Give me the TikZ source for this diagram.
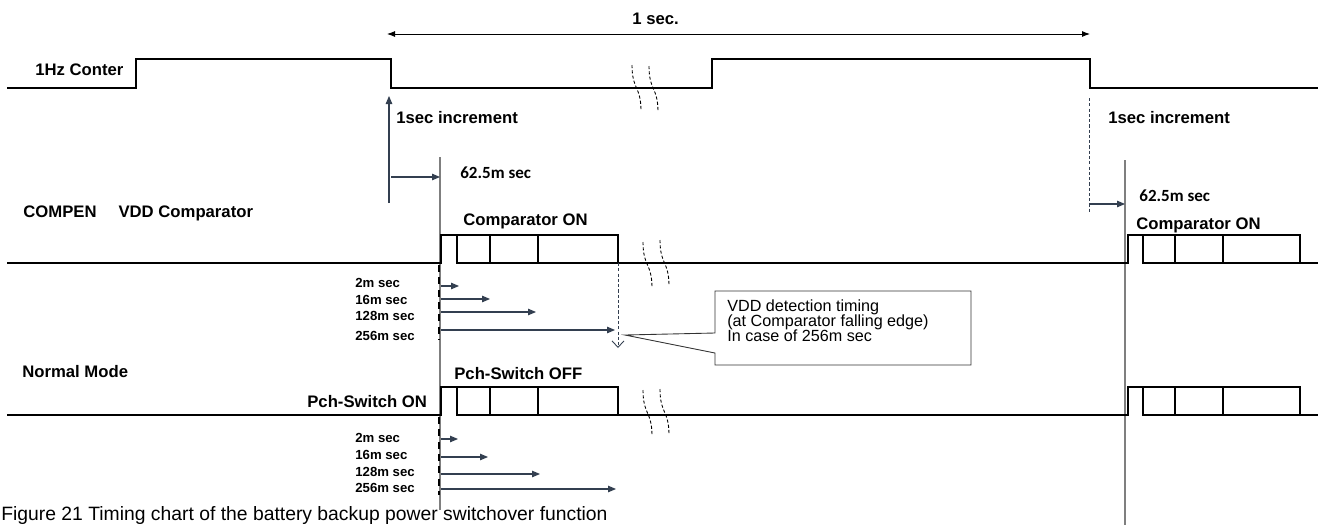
\documentclass[tikz,border=0pt]{standalone}
\usepackage{fontspec}
\setmainfont{Liberation Sans}
\newfontfamily\calibrifont{Carlito}
\usetikzlibrary{arrows.meta, positioning}
\definecolor{arrowgray}{HTML}{333F50}
\definecolor{guidegray}{HTML}{7F7F7F}

\begin{document}
\begin{tikzpicture}[
        x=0.02cm, y=-0.02cm,
        wave/.style={line width=1.1pt, line join=miter},
        guide/.style={draw=guidegray, line width=0.6pt},
        startdash/.style={line width=1.2pt, dash pattern=on 4pt off 3pt},
        brk/.style={line width=0.5pt, dash pattern=on 1.8pt off 1.2pt},
        tarrow/.style={-{Triangle[length=1.6mm, width=1.3mm]}, draw=arrowgray, line width=0.6pt},
        spanarrow/.style={{Latex[length=1.6mm, width=1.2mm]}-{Latex[length=1.6mm, width=1.2mm]}, line width=0.5pt},
        lbl/.style={anchor=base west, inner sep=0pt, font=\bfseries\fontsize{9.5}{11}\selectfont},
        tlbl/.style={anchor=base west, inner sep=0pt, font=\bfseries\fontsize{7.5}{9}\selectfont},
        mlbl/.style={anchor=base west, inner sep=0pt, font=\calibrifont\bfseries\fontsize{9.7}{11}\selectfont},
        notetext/.style={anchor=north west, inner sep=0pt, align=left, font=\fontsize{9.2}{8.7}\selectfont}
    ]
    \useasboundingbox (0,0) rectangle (1336,525);

    \coordinate (g1top) at (440,157);
    \coordinate (g1bot) at (440,510);
    \coordinate (g2top) at (1125,160);
    \coordinate (g2bot) at (1125,525);
    \draw [guide] (g1top) -- (g1bot);
    \draw [guide] (g2top) -- (g2bot);

    \draw [wave] (7,88) -- (136,88) -- (136,59) -- (391,59) -- (391,88) -- (712,88)
        -- (712,59) -- (1090,59) -- (1090,88) -- (1318,88);

    \foreach \yb/\yt in {263/235, 415/387} {
        \draw [wave] (7,\yb) -- (441,\yb) -- (441,\yt) -- (618,\yt) -- (618,\yb) -- (1128,\yb)
            -- (1128,\yt) -- (1300,\yt) -- (1300,\yb) -- (1318,\yb);
        \draw [wave] (457,\yt) -- (457,\yb) -- (618,\yb);
        \draw [wave] (490,\yt) -- (490,\yb);
        \draw [wave] (538,\yt) -- (538,\yb);
        \draw [wave] (1143,\yt) -- (1143,\yb) -- (1300,\yb);
        \draw [wave] (1175,\yt) -- (1175,\yb);
        \draw [wave] (1223,\yt) -- (1223,\yb);
    }

    \foreach \bx/\by in {632/65, 649/66, 643/242, 660/240, 643/390, 660/389}
        \draw [brk] (\bx,\by) .. controls +(0,25) and +(0,-25) .. ++(9,46);

    \coordinate (secl) at (387,34);
    \coordinate (secr) at (1090,34);
    \draw [spanarrow] (secl) -- (secr);
    \node (onesec) [lbl] at (632,24.3) {1 sec.};

    \node (hzcnt) [lbl] at (35,75.7) {1Hz Conter};

    \coordinate (inc1a) at (389,203);
    \coordinate (inc1b) at (389,96);
    \draw [tarrow] (inc1a) -- (inc1b);
    \node (inc1) [lbl] at (396,123) {1sec increment};
    \coordinate (del1a) at (391,177);
    \draw [tarrow] (del1a) -- (del1a -| g1top);
    \node (del1) [mlbl] at (460,178) {62.5m sec};

    \coordinate (inc2a) at (1089,98);
    \coordinate (inc2b) at (1089,213);
    \draw [brk, draw=arrowgray] (inc2a) -- (inc2b);
    \node (inc2) [lbl] at (1108,123) {1sec increment};
    \coordinate (del2a) at (1089,204);
    \draw [tarrow] (del2a) -- (del2a -| g2top);
    \node (del2) [mlbl] at (1139,201.7) {62.5m sec};

    \node (compen) [lbl] at (23,217.3) {COMPEN\hspace{12.5pt}VDD Comparator};
    \node (cmpon1) [lbl] at (463,225.7) {Comparator ON};
    \node (cmpon2) [lbl] at (1136,229.3) {Comparator ON};

    \node (normal) [lbl] at (22,377.3) {Normal Mode};
    \node (pchon) [lbl] at (307,407.3) {Pch-Switch ON};
    \node (pchoff) [lbl] at (454,379.3) {Pch-Switch OFF};

    \draw [startdash] (439,265) -- (439,340);
    \draw [startdash] (439,417) -- (439,495);

    \foreach \t/\ya/\xe/\yl in {2m sec/286/459/287.7, 16m sec/299/490/304.3, 128m sec/312/536/320, 256m sec/330/615/340} {
        \node [tlbl] at (355,\yl) {\t};
        \draw [tarrow] (441,\ya) -- (\xe,\ya);
    }
    \foreach \t/\ya/\xe/\yl in {2m sec/439/458/442.7, 16m sec/457/488/459, 128m sec/474/540/476, 256m sec/489/616/492.7} {
        \node [tlbl] at (355,\yl) {\t};
        \draw [tarrow] (441,\ya) -- (\xe,\ya);
    }

    \coordinate (fall) at (618,263);
    \coordinate (detect) at (618,348);
    \draw [brk, draw=arrowgray, -{Straight Barb[length=1.3mm, width=2.4mm]}] (fall) -- (detect);

    \draw [line width=0.5pt, draw=black!80] (715,291) -- (971,291) -- (971,365) -- (715,365)
        -- (715,353) -- (625,335) -- (715,333) -- cycle;
    \node (note) [notetext] at (727,299) {VDD detection timing\\(at Comparator falling edge)\\In case of 256m sec};

    \node (caption) [anchor=base west, inner sep=0pt, font=\fontsize{11}{13}\selectfont] at (1,520)
        {Figure 21 Timing chart of the battery backup power switchover function};
\end{tikzpicture}
\end{document}
